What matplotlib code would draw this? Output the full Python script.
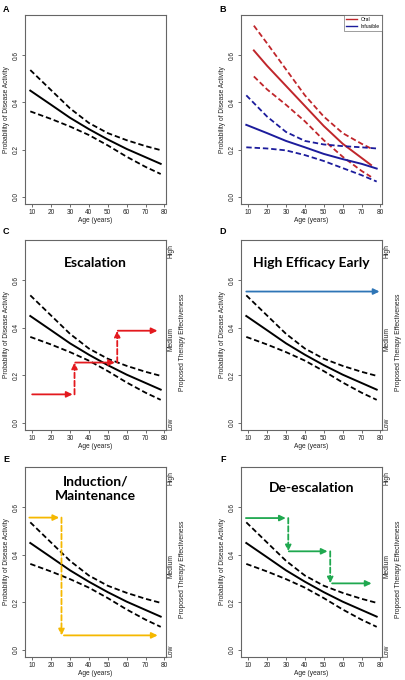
import matplotlib
matplotlib.use("Agg")
import matplotlib.pyplot as plt
from matplotlib.lines import Line2D

plt.rcParams['font.family'] = ['Liberation Sans', 'DejaVu Sans']

# pooled model: probability of disease activity by age
age = [9, 20, 30, 40, 50, 60, 70, 78]
fit = [0.45, 0.39, 0.335, 0.287, 0.243, 0.203, 0.168, 0.14]
upper = [0.537, 0.452, 0.375, 0.313, 0.27, 0.24, 0.215, 0.198]
lower = [0.362, 0.33, 0.298, 0.262, 0.218, 0.17, 0.127, 0.097]

# panel B: oral vs infusible
oral_age = [13, 20, 30, 40, 50, 60, 70, 75]
oral_fit = [0.62, 0.555, 0.47, 0.385, 0.30, 0.225, 0.165, 0.135]
oral_up = [0.725, 0.65, 0.54, 0.43, 0.34, 0.27, 0.225, 0.205]
oral_lo = [0.51, 0.455, 0.39, 0.32, 0.24, 0.17, 0.11, 0.085]
inf_age = [9, 20, 30, 40, 50, 60, 70, 78]
inf_fit = [0.305, 0.27, 0.237, 0.21, 0.182, 0.16, 0.14, 0.12]
inf_up = [0.43, 0.34, 0.275, 0.237, 0.222, 0.215, 0.21, 0.205]
inf_lo = [0.21, 0.205, 0.197, 0.177, 0.152, 0.122, 0.092, 0.065]

# treatment strategy arrows: (x0, y0, x1, y1, dashed)
esc_arrows = [(10, 0.12, 31.4, 0.12, False), (32.4, 0.12, 32.4, 0.254, True),
              (32.8, 0.254, 53.8, 0.254, False), (55, 0.254, 55, 0.388, True),
              (55.3, 0.388, 76.3, 0.388, False)]
hee_arrows = [(9, 0.553, 79.5, 0.553, False)]
ind_arrows = [(8.5, 0.557, 24.3, 0.557, False), (25.5, 0.557, 25.5, 0.061, True),
              (26.8, 0.061, 76.4, 0.061, False)]
desc_arrows = [(8.8, 0.555, 29.9, 0.555, False), (31.2, 0.555, 31.2, 0.415, True),
               (31.5, 0.415, 52, 0.415, False), (53.4, 0.415, 53.4, 0.28, True),
               (54.4, 0.28, 75.3, 0.28, False)]

W, H = 405, 680
fig = plt.figure(figsize=(W / 100, H / 100), dpi=100)

def make_ax(l, r, t, b):
    return fig.add_axes([l / W, (H - b) / H, (r - l) / W, (b - t) / H])

def style(ax):
    ax.set_xlim(6.2, 80.8)
    ax.set_ylim(-0.03, 0.77)
    ax.set_xticks(range(10, 81, 10))
    ax.set_yticks([0.0, 0.2, 0.4, 0.6])
    ax.set_yticklabels(["0.0", "0.2", "0.4", "0.6"], rotation=90, va='center')
    ax.tick_params(labelsize=4.7, length=2, width=0.5, pad=1.5, colors='#333333',
                   labelcolor='#222222')
    for s in ax.spines.values():
        s.set_color('#666666')
        s.set_linewidth(0.8)
    ax.set_xlabel("Age (years)", fontsize=4.8, labelpad=1, color='#222222')
    ax.set_ylabel("Probability of Disease Activity", fontsize=4.8, labelpad=2,
                  color='#222222')

def bands(ax, xs, f, u, lo, color):
    ax.plot(xs, f, color=color, lw=1.4)
    ax.plot(xs, u, color=color, lw=1.3, dashes=(3, 1.6))
    ax.plot(xs, lo, color=color, lw=1.3, dashes=(3, 1.6))

def right_labels(ax):
    for txt, yy in [("High", 0.94), ("Medium", 0.48), ("Low", 0.03)]:
        ax.text(1.035, yy, txt, transform=ax.transAxes, rotation=90,
                ha='center', va='center', fontsize=4.9, color='#222222')
    ax.text(1.12, 0.46, "Proposed Therapy Effectiveness", transform=ax.transAxes,
            rotation=90, ha='center', va='center', fontsize=4.9, color='#222222')

def arrows(ax, segs, color):
    for x0, y0, x1, y1, dashed in segs:
        ax.annotate('', xy=(x1, y1), xytext=(x0, y0),
                    arrowprops=dict(arrowstyle='-|>,head_length=0.35,head_width=0.17',
                                    color=color, lw=1.3,
                                    linestyle=(0, (3, 1.5)) if dashed else '-',
                                    shrinkA=0, shrinkB=0))

def title(ax, txt, y=0.88):
    ax.text(0.5, y, txt, transform=ax.transAxes, ha='center', va='center',
            fontsize=10, fontweight='bold', family='Lato', linespacing=1.2)

rows = [(15, 204), (240, 430), (467, 657)]
cols = [(25, 166), (241, 382)]
letter_y = [9, 232, 459]
letters = ["A", "B", "C", "D", "E", "F"]
axes = []
for i, (t, b) in enumerate(rows):
    for j, (l, r) in enumerate(cols):
        ax = make_ax(l, r, t, b)
        style(ax)
        axes.append(ax)
        fig.text((6 if j == 0 else 223) / W, 1 - letter_y[i] / H,
                 letters[2 * i + j], fontsize=6.5, fontweight='bold', ha='center', va='center')

axA, axB, axC, axD, axE, axF = axes
bands(axA, age, fit, upper, lower, 'black')

bands(axB, oral_age, oral_fit, oral_up, oral_lo, '#C0262B')
bands(axB, inf_age, inf_fit, inf_up, inf_lo, '#1C1C9C')
leg = axB.legend([Line2D([], [], color='#C0262B', lw=1), Line2D([], [], color='#1C1C9C', lw=1)],
                 ["Oral", "Infusible"], loc='upper right', fontsize=3.6, frameon=True,
                 fancybox=False, borderpad=0.4, handlelength=2.2, labelspacing=0.3,
                 borderaxespad=0)
leg.get_frame().set_edgecolor('#555555')
leg.get_frame().set_linewidth(0.5)

for ax in [axC, axD, axE, axF]:
    bands(ax, age, fit, upper, lower, 'black')
    right_labels(ax)

arrows(axC, esc_arrows, '#E3191E')
arrows(axD, hee_arrows, '#2E75B6')
arrows(axE, ind_arrows, '#F5B800')
arrows(axF, desc_arrows, '#1FA84F')

title(axC, "Escalation")
title(axD, "High Efficacy Early")
title(axE, "Induction/\nMaintenance", 0.885)
title(axF, "De-escalation", 0.89)

fig.savefig("out.png", dpi=100)
